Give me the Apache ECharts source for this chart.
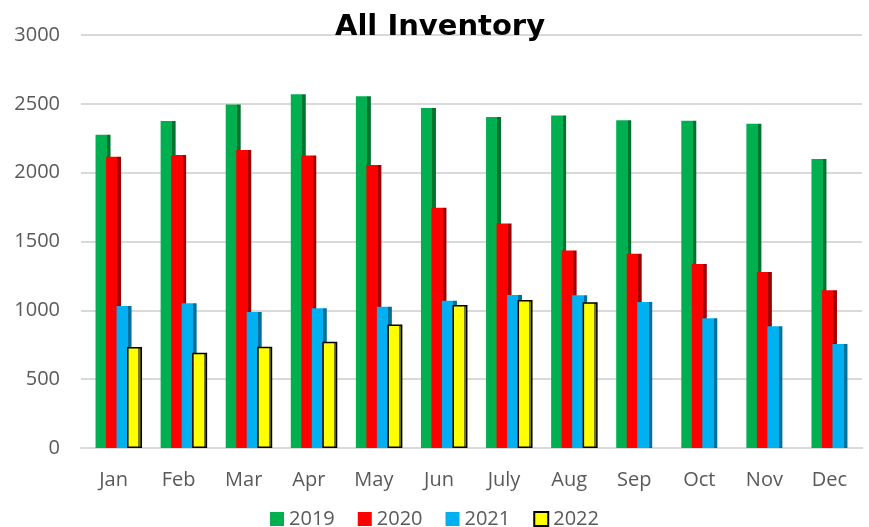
<!DOCTYPE html>
<html>
<head>
<meta charset="utf-8">
<script src="https://cdn.jsdelivr.net/npm/echarts@6/dist/echarts.min.js"></script>
<style>
  html, body { margin: 0; padding: 0; background: #fff; }
  #chart { width: 869px; height: 527px; }
</style>
</head>
<body>
<div id="chart"></div>
<script>
const months = ["Jan", "Feb", "Mar", "Apr", "May", "Jun", "July", "Aug", "Sep", "Oct", "Nov", "Dec"];
const inv2019 = [2275, 2375, 2495, 2570, 2555, 2470, 2405, 2415, 2380, 2378, 2355, 2100];
const inv2020 = [2115, 2128, 2165, 2125, 2055, 1745, 1630, 1435, 1411, 1337, 1278, 1145];
const inv2021 = [1031, 1052, 988, 1015, 1026, 1070, 1111, 1110, 1060, 942, 884, 755];
const inv2022 = [733, 692, 736, 772, 898, 1039, 1075, 1058, null, null, null, null];

// face colour + darker side, like the pseudo-3D bars in the original
function shade(face, side) {
  return new echarts.graphic.LinearGradient(0, 0, 1, 0, [
    { offset: 0, color: face },
    { offset: 0.76, color: face },
    { offset: 0.76, color: side },
    { offset: 1, color: side }
  ]);
}

const chart = echarts.init(document.getElementById("chart"));

const baseBar = {
  type: "bar",
  barWidth: 15,
  barGap: "-30%"
};

const option = {
  animation: false,
  title: {
    text: "All Inventory",
    left: 435,
    top: 8,
    textAlign: "center",
    textStyle: {
      fontFamily: "DejaVu Sans",
      fontWeight: "bold",
      fontSize: 29,
      color: "#000"
    }
  },
  legend: {
    top: 504,
    left: "center",
    itemWidth: 14,
    itemHeight: 14,
    itemGap: 23,
    icon: "rect",
    textStyle: { fontFamily: "Open Sans", fontSize: 20, color: "#595959" },
    data: [
      { name: "2019", itemStyle: { color: "#00B050" } },
      { name: "2020", itemStyle: { color: "#FF0000" } },
      { name: "2021", itemStyle: { color: "#00B0F0" } },
      { name: "2022", itemStyle: { color: "#FFFF00", borderColor: "#000", borderWidth: 2 } }
    ]
  },
  grid: { left: 81, right: 7, top: 35, bottom: 79 },
  xAxis: {
    type: "category",
    data: months,
    axisLine: { lineStyle: { color: "#d9d9d9", width: 2 } },
    axisTick: { show: false },
    axisLabel: { fontFamily: "Open Sans", fontSize: 20, color: "#595959", margin: 22 }
  },
  yAxis: {
    type: "value",
    min: 0,
    max: 3000,
    interval: 500,
    axisLine: { show: false },
    axisTick: { show: false },
    axisLabel: {
      fontFamily: "Open Sans", fontSize: 20, color: "#595959", margin: 21,
      formatter: (v) => String(v)
    },
    splitLine: { lineStyle: { color: "#d9d9d9", width: 2 } }
  },
  series: [
    // empty spacer slot: the original's bar groups sit a little right of the label
    Object.assign({}, baseBar, {
      name: "spacer", data: months.map(() => null),
      itemStyle: { color: "transparent" }, silent: true
    }),
    Object.assign({}, baseBar, {
      name: "2019", data: inv2019,
      itemStyle: { color: shade("#00B050", "#00742f") }
    }),
    Object.assign({}, baseBar, {
      name: "2020", data: inv2020,
      itemStyle: { color: shade("#FF0000", "#a00000") }
    }),
    Object.assign({}, baseBar, {
      name: "2021", data: inv2021,
      itemStyle: { color: shade("#00B0F0", "#00709c") }
    }),
    Object.assign({}, baseBar, {
      name: "2022", data: inv2022,
      itemStyle: { color: shade("#FFFF00", "#7a7a00"), borderColor: "#000", borderWidth: 1.5 }
    })
  ]
};

chart.setOption(option);
</script>
</body>
</html>
